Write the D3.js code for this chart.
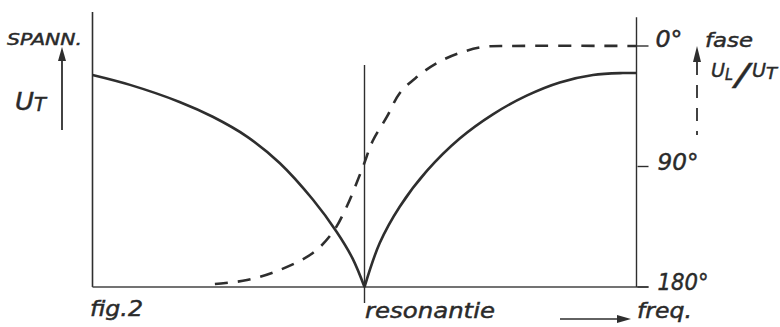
<!DOCTYPE html>
<html>
<head>
<meta charset="utf-8">
<script src="https://cdn.jsdelivr.net/npm/d3@7"></script>
<style>
  body { margin: 0; background: #fff; }
  svg text { font-family: "DejaVu Sans", "Liberation Sans", sans-serif; font-style: italic; fill: #2a2a2a; stroke: #2a2a2a; stroke-width: 0.45; }
</style>
</head>
<body>
<div id="chart"></div>
<script>
// frequency in arbitrary units, resonance at 50
const freqLeft = [0, 6.9, 16, 22.1, 28.4, 34.4, 40.5, 44.9, 47.8, 50];
const spannLeft = [77.1, 73.5, 67.3, 61.9, 54.7, 45.1, 31.8, 20, 10.4, 0];
const freqRight = [50, 52.8, 56.5, 61.5, 67.5, 73.6, 79.8, 85.9, 92, 97.5, 100];
const spannRight = [0, 16, 29.3, 42.3, 54, 62.8, 69.6, 74.4, 77.1, 77.8, 77.8];
// phase UL/UT in degrees
const freqFase = [22.5, 28.4, 34.4, 40.5, 44.2, 46.7, 49.7, 51.5, 54.1, 56.5, 59.6, 63.3, 67.5, 71.8, 76.7, 100];
const fase = [177.8, 174.8, 167.3, 154.6, 138.9, 120.2, 90.4, 71, 53, 35.1, 23.2, 12.7, 5.2, 0.7, 0, 0];
const faseTicks = [0, 90, 180];
const faseLabels = ['0°', '90°', '180°'];
const resonantie = 50;

const width = 780;
const height = 327;

const svg = d3.select('#chart')
  .append('svg')
  .attr('width', width)
  .attr('height', height);

const x = d3.scaleLinear().domain([0, 100]).range([92.5, 636.5]);
const yV = d3.scaleLinear().domain([0, 100]).range([287, 12]);
const yF = d3.scaleLinear().domain([0, 180]).range([46, 287]);

const ink = '#2e2e2e';

// axes frame
svg.append('line')
  .attr('x1', x(0)).attr('x2', x(0))
  .attr('y1', yV(0)).attr('y2', yV(100))
  .attr('stroke', ink).attr('stroke-width', 1.6);
svg.append('line')
  .attr('x1', x(0)).attr('x2', x(100) + 12)
  .attr('y1', yV(0)).attr('y2', yV(0))
  .attr('stroke', '#444').attr('stroke-width', 1.4);
svg.append('line')
  .attr('x1', x(100)).attr('x2', x(100))
  .attr('y1', yF(180)).attr('y2', yF(-21.5))
  .attr('stroke', ink).attr('stroke-width', 1.4);
svg.append('line')
  .attr('x1', x(resonantie)).attr('x2', x(resonantie))
  .attr('y1', yV(0) + 16).attr('y2', 65)
  .attr('stroke', ink).attr('stroke-width', 1.4);

// phase ticks on the right axis
const ticks = svg.selectAll('.tick')
  .data(faseTicks)
  .enter()
  .append('g')
  .attr('transform', d => 'translate(' + x(100) + ',' + yF(d) + ')');
ticks.append('line')
  .attr('x1', (d, i) => i === 0 ? -4 : 1)
  .attr('x2', 12)
  .attr('stroke', ink).attr('stroke-width', 1.4);
ticks.append('text')
  .attr('x', (d, i) => i === 0 ? 19 : 21)
  .attr('y', (d, i) => i === 0 ? 1 : 3)
  .attr('font-size', 23)
  .attr('textLength', (d, i) => [27, 41, 51][i])
  .attr('lengthAdjust', 'spacingAndGlyphs')
  .text((d, i) => faseLabels[i]);

// curves
const lineV = d3.line()
  .x(d => x(d[0]))
  .y(d => yV(d[1]))
  .curve(d3.curveCatmullRom.alpha(0.5));

svg.append('path')
  .attr('d', lineV(d3.zip(freqLeft, spannLeft)))
  .attr('fill', 'none').attr('stroke', ink).attr('stroke-width', 2.6);
svg.append('path')
  .attr('d', lineV(d3.zip(freqRight, spannRight)))
  .attr('fill', 'none').attr('stroke', ink).attr('stroke-width', 2.6);

const lineF = d3.line()
  .x(d => x(d[0]))
  .y(d => yF(d[1]))
  .curve(d3.curveCatmullRom.alpha(0.5));

svg.append('path')
  .attr('d', lineF(d3.zip(freqFase, fase)))
  .attr('fill', 'none').attr('stroke', ink).attr('stroke-width', 2.6)
  .attr('stroke-dasharray', '13,10');

// left quantity arrow
svg.append('line')
  .attr('x1', 62).attr('x2', 62).attr('y1', 130).attr('y2', 58)
  .attr('stroke', ink).attr('stroke-width', 1.8);
svg.append('path')
  .attr('d', 'M62,47 L58,61 L66,61 Z')
  .attr('fill', ink);

// right phase arrow (dashed)
svg.append('line')
  .attr('x1', 697).attr('x2', 697).attr('y1', 62).attr('y2', 135)
  .attr('stroke', ink).attr('stroke-width', 1.8)
  .attr('stroke-dasharray', '13,10');
svg.append('path')
  .attr('d', 'M697,46 L693,62 L701,62 Z')
  .attr('fill', ink);

// frequency arrow
svg.append('line')
  .attr('x1', 560).attr('x2', 622).attr('y1', 319).attr('y2', 319)
  .attr('stroke', ink).attr('stroke-width', 1.5);
svg.append('path')
  .attr('d', 'M631,319 L617,315 L617,323 Z')
  .attr('fill', ink);

// labels
function label(txt, lx, ly, size, len) {
  const t = svg.append('text')
    .attr('x', lx).attr('y', ly)
    .attr('font-size', size)
    .text(txt);
  if (len) t.attr('textLength', len).attr('lengthAdjust', 'spacingAndGlyphs');
  return t;
}

label('SPANN.', 7, 45, 16, 75);
label('U', 15, 110, 24, 19);
label('T', 34, 111, 19, 12);

label('fase', 705, 47, 20, 48);
label('U', 711, 77, 20, 14);
label('L', 725, 80, 15, 8);
label('/', 735, 85, 30, 14);
label('U', 752, 77, 20, 14);
label('T', 766, 79, 15, 11);

label('fig.2', 90, 316, 21, 53);
label('resonantie', 365, 318, 21, 130);
label('freq.', 637, 318, 21, 55);
</script>
</body>
</html>
